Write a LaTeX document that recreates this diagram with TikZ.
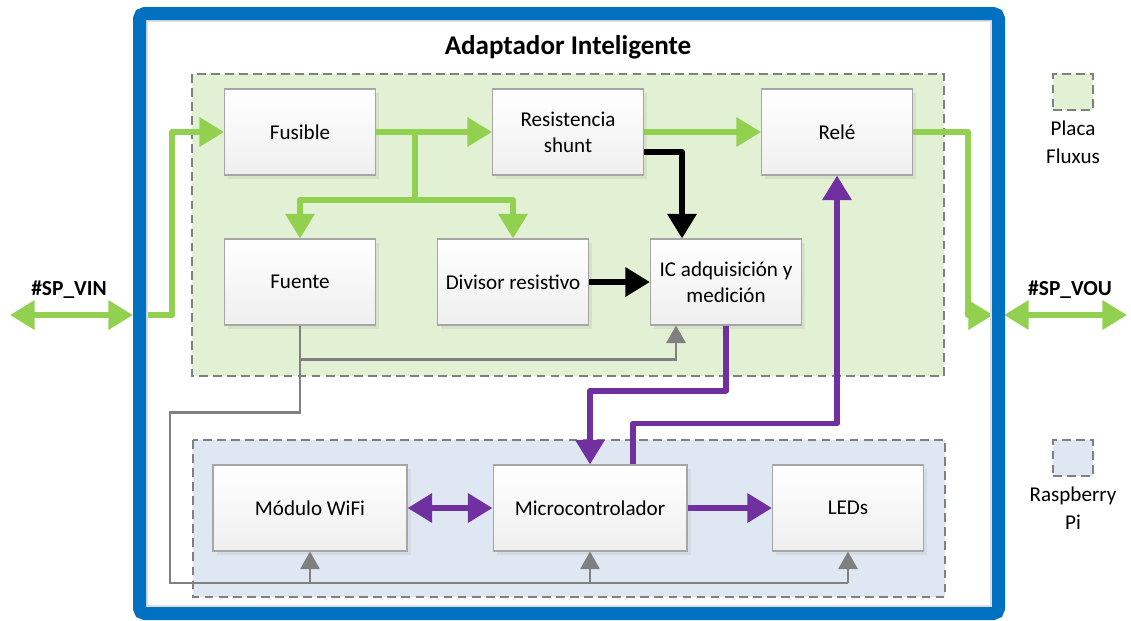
\documentclass[tikz,border=0pt]{standalone}
\usepackage{fontspec}
\setmainfont{Carlito}
\usetikzlibrary{positioning}
\usetikzlibrary{calc}
\usetikzlibrary{arrows.meta}
\usetikzlibrary{shadows}

\definecolor{fluxgreen}{HTML}{92D050}
\definecolor{fluxfill}{HTML}{E2F0D3}
\definecolor{rpifill}{HTML}{DFE8F2}
\definecolor{frameblue}{HTML}{0070C0}
\definecolor{ctrlpurple}{HTML}{7030A0}
\definecolor{wiregray}{HTML}{808080}

\tikzset{
  block/.style={draw=gray!70, line width=0.6pt, top color=white, bottom color=gray!13,
    minimum width=3.02cm, minimum height=1.72cm, align=center,
    font=\fontsize{12}{14.8}\selectfont,
    drop shadow={opacity=0.12, shadow xshift=2pt, shadow yshift=-2pt}},
  group/.style={draw=gray, line width=0.8pt, dash pattern=on 5pt off 3pt},
  gline/.style={draw=fluxgreen, line width=3.4pt, line join=round},
  garrow/.style={gline, -{Triangle[length=14pt,width=16pt]}},
  gboth/.style={gline, {Triangle[length=14pt,width=16pt]}-{Triangle[length=14pt,width=16pt]}},
  karrow/.style={draw=black, line width=3.4pt, line join=round, -{Triangle[length=14pt,width=16pt]}},
  parrow/.style={draw=ctrlpurple, line width=3.4pt, line join=round, -{Triangle[length=14pt,width=16pt]}},
  pboth/.style={parrow, {Triangle[length=14pt,width=16pt]}-{Triangle[length=14pt,width=16pt]}},
  wire/.style={draw=wiregray, line width=1.2pt},
  warrow/.style={wire, -{Triangle[length=10pt,width=11pt]}},
  legend/.style={align=center, font=\fontsize{12}{16}\selectfont},
  pin/.style={font=\fontsize{12.2}{14}\selectfont\bfseries}
}

\begin{document}
\begin{tikzpicture}[x=0.02cm, y=-0.02cm]
  \useasboundingbox (0,0) rectangle (1131,620);

  % grupos
  \draw[group, fill=fluxfill] (192,74) rectangle (944,376);
  \draw[group, fill=rpifill] (193,440) rectangle (945,597);

  \node[font=\fontsize{15.4}{18}\selectfont\bfseries] (title) at (568,47) {Adaptador Inteligente};

  \node[block] (fus) at (300,132) {Fusible};
  \node[block] (shunt) at (568,132) {Resistencia\\shunt};
  \node[block] (rele) at (837,132) {Relé};
  \node[block] (fue) at (300,282) {Fuente};
  \node[block] (div) at (513,282) {Divisor resistivo};
  \node[block] (ic) at (726,282) {IC adquisición y\\medición};
  \node[block, minimum width=3.88cm] (wifi) at (310,508) {Módulo WiFi};
  \node[block, minimum width=3.88cm] (micro) at (590,508) {Microcontrolador};
  \node[block] (leds) at (848,508) {LEDs};

  % entrada y salida
  \coordinate (vinL) at (10,315);
  \coordinate (vinR) at (133,315);
  \coordinate (vouL) at (1004,315);
  \coordinate (vouR) at (1127,315);
  \coordinate (outR) at (993,315);
  \node[pin] (vin) at (69,290) {\#SP\_VIN};
  \node[pin] (vou) at (1070,290) {\#SP\_VOU};
  \draw[gboth] (vinL) -- (vinR);
  \draw[gboth] (vouL) -- (vouR);
  \draw[garrow] (vinR) -- ++(39,0) |- (fus.west);
  \draw[garrow] (rele.east) -- ++(55,0) |- (outR);

  % potencia
  \coordinate (split) at (415,132);
  \draw[garrow] (fus) -- (shunt);
  \draw[gline] (split) -- ++(0,68) coordinate (fork);
  \draw[garrow] (fork) -| (fue.north);
  \draw[garrow] (fork) -| (div.north);
  \draw[garrow] (shunt) -- (rele);

  % medida
  \draw[karrow] ($(shunt.east)+(0,20)$) -| ($(ic.north)+(-44,0)$);
  \draw[karrow] (div.east) -- (ic.west);

  % control
  \draw[parrow] (ic.south) -- ++(0,65) -| (micro.north);
  \draw[parrow] ($(micro.north)+(43,0)$) -- ++(0,-41) -| (rele.south);
  \draw[pboth] (wifi) -- (micro);
  \draw[parrow] (micro) -- (leds);

  % alimentacion
  \coordinate (busL) at (170,583);
  \coordinate (busR) at (848,583);
  \draw[wire] (fue.south) -- ++(0,87) -| (busL) -- (busR);
  \draw[warrow] ($(fue.south)+(0,34)$) -| ($(ic.south)+(-50,0)$);
  \draw[warrow] (wifi.south |- busL) -- (wifi.south);
  \draw[warrow] (micro.south |- busL) -- (micro.south);
  \draw[warrow] (busR) -- (leds.south);

  % marco
  \draw[gray!25, line width=0.8pt] (147,21) rectangle (991,606);
  \draw[frameblue, line width=7.4pt, rounded corners=3pt] (139.5,13.5) rectangle (998.5,613.5);

  % leyenda
  \node[group, fill=fluxfill, minimum width=0.8cm, minimum height=0.72cm] (lgflux) at (1073,92) {};
  \node[legend, below=2pt of lgflux] (txflux) {Placa\\Fluxus};
  \node[group, fill=rpifill, minimum width=0.8cm, minimum height=0.72cm] (lgrpi) at (1073,458) {};
  \node[legend, below=2pt of lgrpi] (txrpi) {Raspberry\\Pi};
\end{tikzpicture}
\end{document}
